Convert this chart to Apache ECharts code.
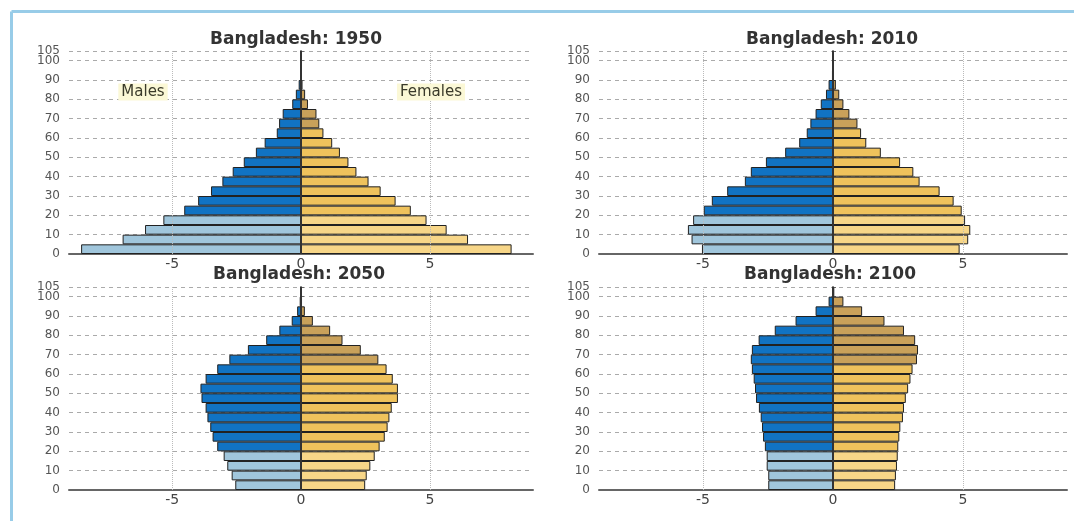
<!DOCTYPE html>
<html><head><meta charset="utf-8">
<script src="https://cdn.jsdelivr.net/npm/echarts@6/dist/echarts.min.js"></script>
<style>html,body{margin:0;padding:0;background:#fff}#c{width:1074px;height:521px}</style>
</head><body><div id="c"></div>
<script>
// ---- data ----
const ageGroups = ['0','5','10','15','20','25','30','35','40','45','50','55','60','65','70','75','80','85','90','95','100'];
const years = ['1950', '2010', '2050', '2100'];
const xTickValues = [-5, 0, 5];
const yMaxAge = 105;
const males1950   = [8.53,6.92,6.05,5.34,4.53,3.99,3.49,3.05,2.65,2.22,1.75,1.41,0.94,0.85,0.71,0.34,0.20,0.09,0.03,0.01,0.005];
const females1950 = [8.17,6.48,5.65,4.87,4.26,3.67,3.09,2.62,2.15,1.84,1.51,1.21,0.87,0.71,0.60,0.27,0.16,0.06,0.02,0.01,0.005];
const males2010   = [5.04,5.44,5.58,5.38,4.97,4.66,4.07,3.39,3.16,2.58,1.84,1.30,1.01,0.87,0.67,0.47,0.27,0.17,0.04,0.01,0.005];
const females2010 = [4.87,5.20,5.28,5.08,4.95,4.64,4.10,3.33,3.09,2.58,1.84,1.28,1.08,0.94,0.63,0.40,0.24,0.11,0.03,0.01,0.005];
const males2050   = [2.55,2.69,2.86,3.00,3.25,3.43,3.52,3.63,3.70,3.86,3.90,3.70,3.25,2.78,2.06,1.35,0.84,0.36,0.15,0.05,0.01];
const females2050 = [2.49,2.55,2.69,2.86,3.05,3.25,3.36,3.43,3.52,3.76,3.76,3.56,3.32,3.00,2.32,1.61,1.13,0.46,0.15,0.04,0.01];
const males2100   = [2.49,2.49,2.55,2.55,2.62,2.69,2.73,2.78,2.85,2.96,3.00,3.05,3.12,3.16,3.12,2.86,2.24,1.44,0.67,0.17,0.03];
const females2100 = [2.39,2.42,2.46,2.49,2.51,2.55,2.59,2.69,2.73,2.80,2.89,2.98,3.06,3.23,3.27,3.16,2.73,1.98,1.12,0.40,0.05];
const malesAll = [males1950, males2010, males2050, males2100];
const femalesAll = [females1950, females2010, females2050, females2100];

// ---- styles ----
const C = {
  maleYoung: '#a0c6dc', maleAdult: '#1173c3',
  femYoung: '#f7d688', femAdult: '#efc25c', femOld: '#c9a15a'
};
const grids = [
  {left: 69, top: 51, width: 464, height: 203},
  {left: 599, top: 51, width: 468, height: 203},
  {left: 69, top: 287, width: 464, height: 203},
  {left: 599, top: 287, width: 468, height: 203}
];
const titlePos = [[296, 40], [832, 40], [299, 275], [830, 275]];
const FONT = '"DejaVu Sans", sans-serif';
const yLabelStyle = {color: '#555', fontSize: 12, margin: 9, fontFamily: FONT};

function maleColor(i) { return i < 4 ? C.maleYoung : C.maleAdult; }
function femColor(i) { return i < 4 ? C.femYoung : (i < 13 ? C.femAdult : C.femOld); }

const xAxes = [], yAxes = [], series = [], graphics = [];
grids.forEach((g, k) => {
  xAxes.push({
    gridIndex: k, type: 'value', min: -9, max: 9,
    axisLine: {show: true, onZero: false, lineStyle: {color: '#666', width: 2}},
    axisTick: {show: false},
    splitLine: {show: false},
    axisLabel: {customValues: xTickValues, color: '#444', fontSize: 14, margin: 3, fontFamily: FONT,
      formatter: v => (xTickValues.indexOf(v) >= 0 ? String(v) : '')}
  });
  // main age axis: 0..100 every 10
  yAxes.push({
    gridIndex: k, type: 'value', min: 0, max: yMaxAge, interval: 10, position: 'left',
    axisLine: {show: true, lineStyle: {color: '#666', width: 2}},
    axisTick: {show: true, inside: true, length: 3, lineStyle: {color: '#666'}},
    axisLabel: Object.assign({}, yLabelStyle, {formatter: v => (v % 10 === 0 ? String(v) : '')}),
    splitLine: {show: true, lineStyle: {color: '#aaa', type: [4, 4], width: 1}}
  });
  // hidden category axis for the 5-year bars
  yAxes.push({
    gridIndex: k, type: 'category', data: ageGroups, show: false, boundaryGap: true
  });
  // extra axis only for the top "105" label
  yAxes.push({
    gridIndex: k, type: 'value', min: 0, max: yMaxAge, interval: yMaxAge, position: 'left',
    axisLine: {show: false}, axisTick: {show: false}, splitLine: {show: false},
    axisLabel: Object.assign({}, yLabelStyle, {formatter: v => (v === yMaxAge ? String(v) : '')})
  });
  series.push({
    type: 'line', xAxisIndex: k, yAxisIndex: 3 * k, data: [], z: 1, silent: true,
    markLine: {silent: true, symbol: 'none', label: {show: false},
      lineStyle: {color: '#bbb', type: 'dotted', width: 1},
      data: [{xAxis: -5}, {xAxis: 5}]}
  });
  series.push({
    type: 'bar', name: 'Males', xAxisIndex: k, yAxisIndex: 3 * k + 1, z: 3,
    barGap: '-100%', barCategoryGap: 0,
    itemStyle: {borderColor: '#222', borderWidth: 1},
    data: malesAll[k].map((v, i) => ({value: -v, itemStyle: {color: maleColor(i)}}))
  });
  series.push({
    type: 'bar', name: 'Females', xAxisIndex: k, yAxisIndex: 3 * k + 1, z: 3,
    barGap: '-100%', barCategoryGap: 0,
    itemStyle: {borderColor: '#222', borderWidth: 1},
    data: femalesAll[k].map((v, i) => ({value: v, itemStyle: {color: femColor(i)}})),
    markLine: {silent: true, symbol: 'none', label: {show: false},
      lineStyle: {color: '#333', type: 'solid', width: 2},
      data: [{xAxis: 0}]}
  });
  graphics.push({
    type: 'text', x: titlePos[k][0], y: titlePos[k][1], z: 10,
    style: {text: 'Bangladesh: ' + years[k], align: 'center', verticalAlign: 'middle',
      font: 'bold 17px ' + FONT, fill: '#333'}
  });
});

graphics.push({
  type: 'line', shape: {x1: 11.5, y1: 11.5, x2: 1074, y2: 11.5}, z: 0,
  style: {stroke: '#98cce8', lineWidth: 3}
});
graphics.push({
  type: 'line', shape: {x1: 11.5, y1: 11.5, x2: 11.5, y2: 521}, z: 0,
  style: {stroke: '#98cce8', lineWidth: 3}
});
graphics.push({
  type: 'text', x: 143, y: 92, z: 10,
  style: {text: 'Males', align: 'center', verticalAlign: 'middle', font: '15px ' + FONT,
    fill: '#3a3a2a', backgroundColor: '#fbf8d6', padding: [1, 3]}
});
graphics.push({
  type: 'text', x: 431, y: 92, z: 10,
  style: {text: 'Females', align: 'center', verticalAlign: 'middle', font: '15px ' + FONT,
    fill: '#3a3a2a', backgroundColor: '#fbf8d6', padding: [1, 3]}
});

const chart = echarts.init(document.getElementById('c'), null, {renderer: 'canvas'});
chart.setOption({
  animation: false,
  backgroundColor: '#fff',
  grid: grids,
  xAxis: xAxes,
  yAxis: yAxes,
  series: series,
  graphic: graphics
});
</script>
</body></html>
